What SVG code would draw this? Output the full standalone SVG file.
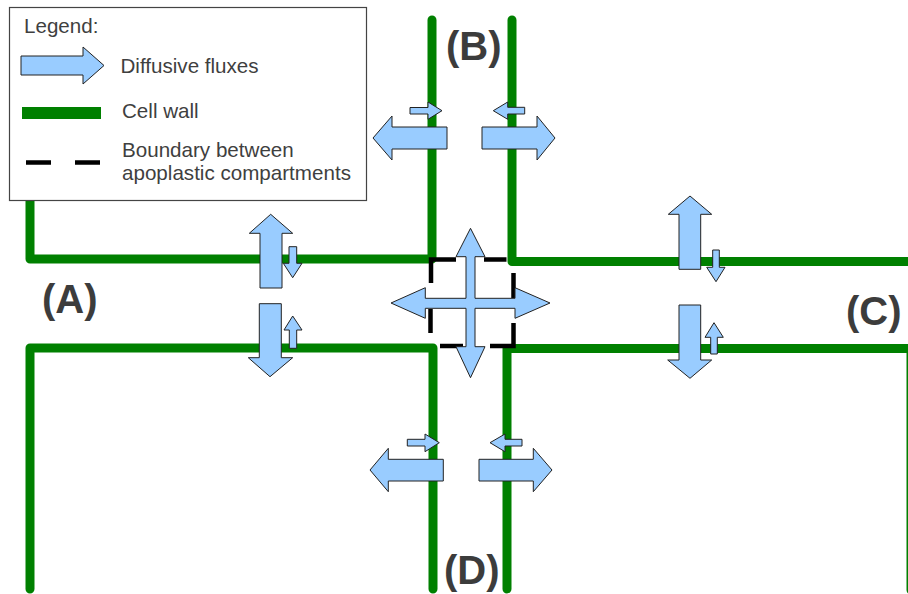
<svg xmlns="http://www.w3.org/2000/svg" width="908" height="594" viewBox="0 0 908 594">
<style>
.wall{fill:none;stroke:#008000;stroke-width:9;stroke-linejoin:round;stroke-linecap:round}
.flux{fill:#99ccff;stroke:#222;stroke-width:1;stroke-linejoin:miter}
.bnd{fill:none;stroke:#000;stroke-width:4.5;stroke-linecap:butt}
.lg{font-family:"Liberation Sans",Arial,sans-serif;font-size:20.6px;fill:#3f3f3f}
.lbl{font-family:"Liberation Sans",Arial,sans-serif;font-size:40px;font-weight:bold;fill:#3c3c3c}
</style>
<rect width="908" height="594" fill="#fff"/>
<g id="walls">
<path class="wall" d="M30 150 V259 H432 V20"/>
<path class="wall" d="M512 20 V261.5 H915"/>
<path class="wall" d="M30 589 V348 H433 V589"/>
<path class="wall" d="M507 589 V348.5 H911 V590"/>
</g>
<g id="boundary">
<path class="bnd" d="M456 259.5 H431 V283"/>
<path class="bnd" d="M484 259.5 H506.5"/>
<path class="bnd" d="M513.5 273 V298"/>
<path class="bnd" d="M513.5 323 V346 H490"/>
<path class="bnd" d="M463 346 H440"/>
<path class="bnd" d="M430.5 309 V333"/>
</g>
<g id="fluxes">
<polygon class="flux" points="373,138 392,116 392,127 447,127 447,149 392,149 392,160"/>
<polygon class="flux" points="410,107.5 428,107.5 428,102 442,110.7 428,119.3 428,114 410,114"/>
<polygon class="flux" points="482,127 537,127 537,116 555,138 537,160 537,149 482,149"/>
<polygon class="flux" points="493.3,110.7 507.7,102 507.7,107.3 524.7,107.3 524.7,114 507.7,114 507.7,119.3"/>
<polygon class="flux" points="370,470 388.3,448.3 388.3,459.3 443.3,459.3 443.3,481 388.3,481 388.3,491.7"/>
<polygon class="flux" points="407.3,439.3 425,439.3 425,434 439.3,442.7 425,451.7 425,446 407.3,446"/>
<polygon class="flux" points="479,459.3 533.3,459.3 533.3,448.3 552,470 533.3,491.7 533.3,481 479,481"/>
<polygon class="flux" points="490,442.7 505,434 505,439.3 522,439.3 522,446 505,446 505,451.7"/>
<polygon class="flux" points="270.7,214.3 292.7,233.3 282,233.3 282,288 260,288 260,233.3 249.3,233.3"/>
<polygon class="flux" points="289,246.7 296.7,246.7 296.7,263.3 302,263.3 292.7,277.7 283.3,263.3 289,263.3"/>
<polygon class="flux" points="259.3,303.7 281.3,303.7 281.3,357.7 292.7,357.7 270,376.7 248.3,357.7 259.3,357.7"/>
<polygon class="flux" points="292.7,316 302,330 296.7,330 296.7,348.3 289.3,348.3 289.3,330 284,330"/>
<polygon class="flux" points="690,196 711.7,214.3 700.7,214.3 700.7,269.3 679,269.3 679,214.3 668.3,214.3"/>
<polygon class="flux" points="712.7,250 719.3,250 719.3,267.3 725,267.3 716,281.7 706.7,267.3 712.7,267.3"/>
<polygon class="flux" points="679,305 700.7,305 700.7,360 711.7,360 690,378.3 667.7,360 679,360"/>
<polygon class="flux" points="714,322.7 723.3,337.3 717.3,337.3 717.3,354 710.7,354 710.7,337.3 705,337.3"/>
<polygon class="flux" points="470.5,228.3 485,256.7 475,256.7 475,298.3 515,298.3 515,287.7 550,303 515,318.3 515,308.3 475,308.3 475,346.7 485,346.7 470.5,377.7 456,346.7 466,346.7 466,308.3 425.3,308.3 425.3,318.3 391,303 425.3,287.7 425.3,298.3 466,298.3 466,256.7 456,256.7"/>
</g>
<g id="cellA"><text class="lbl" x="42" y="313">(A)</text></g>
<g id="cellB"><text class="lbl" x="446" y="60">(B)</text></g>
<g id="cellC"><text class="lbl" x="846" y="325">(C)</text></g>
<g id="cellD"><text class="lbl" x="444" y="584">(D)</text></g>
<g id="legend">
<rect x="9.5" y="7.5" width="357" height="193" fill="#fff" stroke="#444" stroke-width="1.2"/>
<text class="lg" x="24" y="33">Legend:</text>
<polygon class="flux" points="21,56 83,56 83,47 104,65.5 83,84 83,75 21,75"/>
<text class="lg" x="120.5" y="73">Diffusive fluxes</text>
<rect x="22" y="107" width="79" height="12" fill="#008000"/>
<text class="lg" x="122" y="118">Cell wall</text>
<path class="bnd" d="M26 162.5 H51 M75 162.5 H100" stroke-width="5"/>
<text class="lg" x="122" y="157">Boundary between</text>
<text class="lg" x="122" y="180">apoplastic compartments</text>
</g>
</svg>
